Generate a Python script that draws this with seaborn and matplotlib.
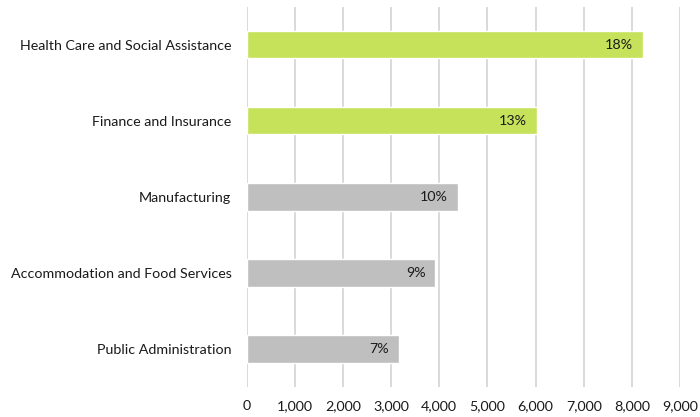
import matplotlib
matplotlib.use("Agg")
import matplotlib.pyplot as plt
import seaborn as sns
import pandas as pd
from matplotlib.ticker import FuncFormatter

industries = [
    "Health Care and Social Assistance",
    "Finance and Insurance",
    "Manufacturing",
    "Accommodation and Food Services",
    "Public Administration",
]
employees = [8240, 6030, 4390, 3920, 3160]
shares = ["18%", "13%", "10%", "9%", "7%"]
highlight = ["top", "top", "other", "other", "other"]

df = pd.DataFrame({"industry": industries, "employees": employees,
                   "share": shares, "group": highlight})

sns.set_theme(style="white")
plt.rcParams["font.family"] = ["Lato", "DejaVu Sans"]

fig = plt.figure(figsize=(7, 4.17), dpi=100)
ax = fig.add_axes([0.3524, 0.072, 0.6190, 0.912])

sns.barplot(data=df, y="industry", x="employees", hue="group",
            palette={"top": "#C5E25A", "other": "#BFBFBF"},
            dodge=False, width=0.36, legend=False, ax=ax, saturation=1)

for patch, label in zip(sorted(ax.patches, key=lambda p: p.get_y()), df["share"]):
    if patch.get_width() <= 0:
        continue
    ax.annotate(label, xy=(patch.get_width(), patch.get_y() + patch.get_height() / 2),
                xytext=(-10, 0), textcoords="offset pixels",
                ha="right", va="center", fontsize=10.3, color="#1a1a1a")

ax.set_xlim(0, 9000)
ax.set_xticks(range(0, 9001, 1000))
ax.xaxis.set_major_formatter(FuncFormatter(lambda v, _: f"{int(v):,}"))
ax.grid(axis="x", color="#D9D9D9", linewidth=1.4)
ax.set_axisbelow(True)
for s in ax.spines.values():
    s.set_visible(False)
ax.set_xlabel("")
ax.set_ylabel("")
ax.tick_params(axis="x", labelsize=10.3, colors="#1a1a1a", pad=9.5, length=0)
ax.tick_params(axis="y", labelsize=10.3, colors="#1a1a1a", pad=11, length=0)

fig.savefig("out.png", dpi=100)
